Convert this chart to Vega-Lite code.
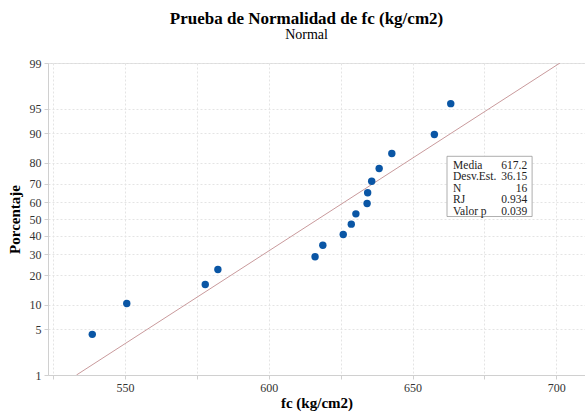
{
  "$schema": "https://vega.github.io/schema/vega-lite/v6.json",
  "autosize": {"type": "none"},
  "width": 537,
  "height": 312,
  "padding": {"left": 48, "top": 63, "right": 0, "bottom": 37},
  "background": "white",
  "title": {
    "text": "Prueba de Normalidad de fc (kg/cm2)",
    "subtitle": "Normal",
    "font": "Liberation Serif",
    "fontSize": 17,
    "fontWeight": "bold",
    "color": "#000000",
    "subtitleFont": "Liberation Serif",
    "subtitleFontSize": 14,
    "subtitleColor": "#000000",
    "subtitlePadding": 0,
    "anchor": "middle",
    "offset": 14,
    "dx": -10
  },
  "config": {
    "view": {"stroke": "#dcdcdc", "strokeWidth": 1},
    "axis": {
      "labelFont": "Liberation Serif",
      "labelFontSize": 12,
      "labelColor": "#333333",
      "labelOverlap": false,
      "labelFlush": false,
      "titleFont": "Liberation Serif",
      "titleFontSize": 15,
      "titleFontWeight": "bold",
      "titleColor": "#000000",
      "domainColor": "#d0d0d0",
      "tickColor": "#d0d0d0",
      "tickSize": 4,
      "gridColor": "#e4e4e4",
      "gridDash": [2, 2],
      "gridWidth": 1
    }
  },
  "datasets": {
    "obs": [
      {"fc": 538.6, "pct": 4.27},
      {"fc": 550.6, "pct": 10.37},
      {"fc": 577.9, "pct": 16.46},
      {"fc": 582.3, "pct": 22.56},
      {"fc": 616.1, "pct": 28.66},
      {"fc": 618.8, "pct": 34.76},
      {"fc": 625.9, "pct": 40.85},
      {"fc": 628.7, "pct": 46.95},
      {"fc": 630.3, "pct": 53.05},
      {"fc": 634.2, "pct": 59.15},
      {"fc": 634.4, "pct": 65.24},
      {"fc": 635.8, "pct": 71.34},
      {"fc": 638.4, "pct": 77.44},
      {"fc": 642.8, "pct": 83.54},
      {"fc": 657.6, "pct": 89.63},
      {"fc": 663.3, "pct": 95.73}
    ],
    "fit": [
      {"fc": 533.1, "pct": 1},
      {"fc": 701.3, "pct": 99}
    ],
    "stats": [
      {"lbl": "Media\nDesv.Est.\nN\nRJ\nValor p", "val": "617.2\n36.15\n16\n0.934\n0.039"}
    ]
  },
  "layer": [
    {
      "data": {"name": "fit"},
      "transform": [{"calculate": "quantileNormal(datum.pct/100)", "as": "z"}],
      "mark": {"type": "line", "color": "#c99a9c", "strokeWidth": 1, "clip": true},
      "encoding": {
        "x": {
          "field": "fc", "type": "quantitative",
          "scale": {"domain": [523.2, 710], "nice": false, "zero": false},
          "axis": {
            "title": "fc (kg/cm2)",
            "values": [525, 550, 575, 600, 625, 650, 675, 700],
            "tickCount": 30,
            "labelExpr": "datum.value % 50 == 0 ? datum.label : ''",
            "labelPadding": 3,
            "titlePadding": 2
          }
        },
        "y": {
          "field": "z", "type": "quantitative",
          "scale": {"domain": [-2.3263, 2.3263], "nice": false, "zero": false},
          "axis": {
            "title": "Porcentaje",
            "values": [-2.3263, -1.6449, -1.2816, -0.8416, -0.5244, -0.2533, 0, 0.2533, 0.5244, 0.8416, 1.2816, 1.6449, 2.3263],
            "tickCount": 30,
            "labelExpr": "format(cumulativeNormal(datum.value)*100, '.0f')",
            "labelPadding": 3,
            "titlePadding": 7
          }
        }
      }
    },
    {
      "data": {"name": "obs"},
      "transform": [{"calculate": "quantileNormal(datum.pct/100)", "as": "z"}],
      "mark": {"type": "circle", "size": 55, "opacity": 1, "color": "#0a56a5"},
      "encoding": {
        "x": {"field": "fc", "type": "quantitative"},
        "y": {"field": "z", "type": "quantitative"}
      }
    },
    {
      "data": {"name": "stats"},
      "mark": {"type": "rect", "fill": "white", "stroke": "#999999", "strokeWidth": 0.8},
      "encoding": {
        "x": {"datum": 662.0, "type": "quantitative"},
        "x2": {"datum": 691.6},
        "y": {"datum": 0.935, "type": "quantitative"},
        "y2": {"datum": 0.037}
      }
    },
    {
      "data": {"name": "stats"},
      "mark": {"type": "text", "align": "left", "baseline": "top", "font": "Liberation Serif", "fontSize": 11.5, "lineHeight": 11.5, "lineBreak": "\n", "color": "#222222"},
      "encoding": {
        "x": {"datum": 664.1, "type": "quantitative"},
        "y": {"datum": 0.88, "type": "quantitative"},
        "text": {"field": "lbl"}
      }
    },
    {
      "data": {"name": "stats"},
      "mark": {"type": "text", "align": "right", "baseline": "top", "font": "Liberation Serif", "fontSize": 11.5, "lineHeight": 11.5, "lineBreak": "\n", "color": "#222222"},
      "encoding": {
        "x": {"datum": 689.9, "type": "quantitative"},
        "y": {"datum": 0.88, "type": "quantitative"},
        "text": {"field": "val"}
      }
    }
  ]
}
